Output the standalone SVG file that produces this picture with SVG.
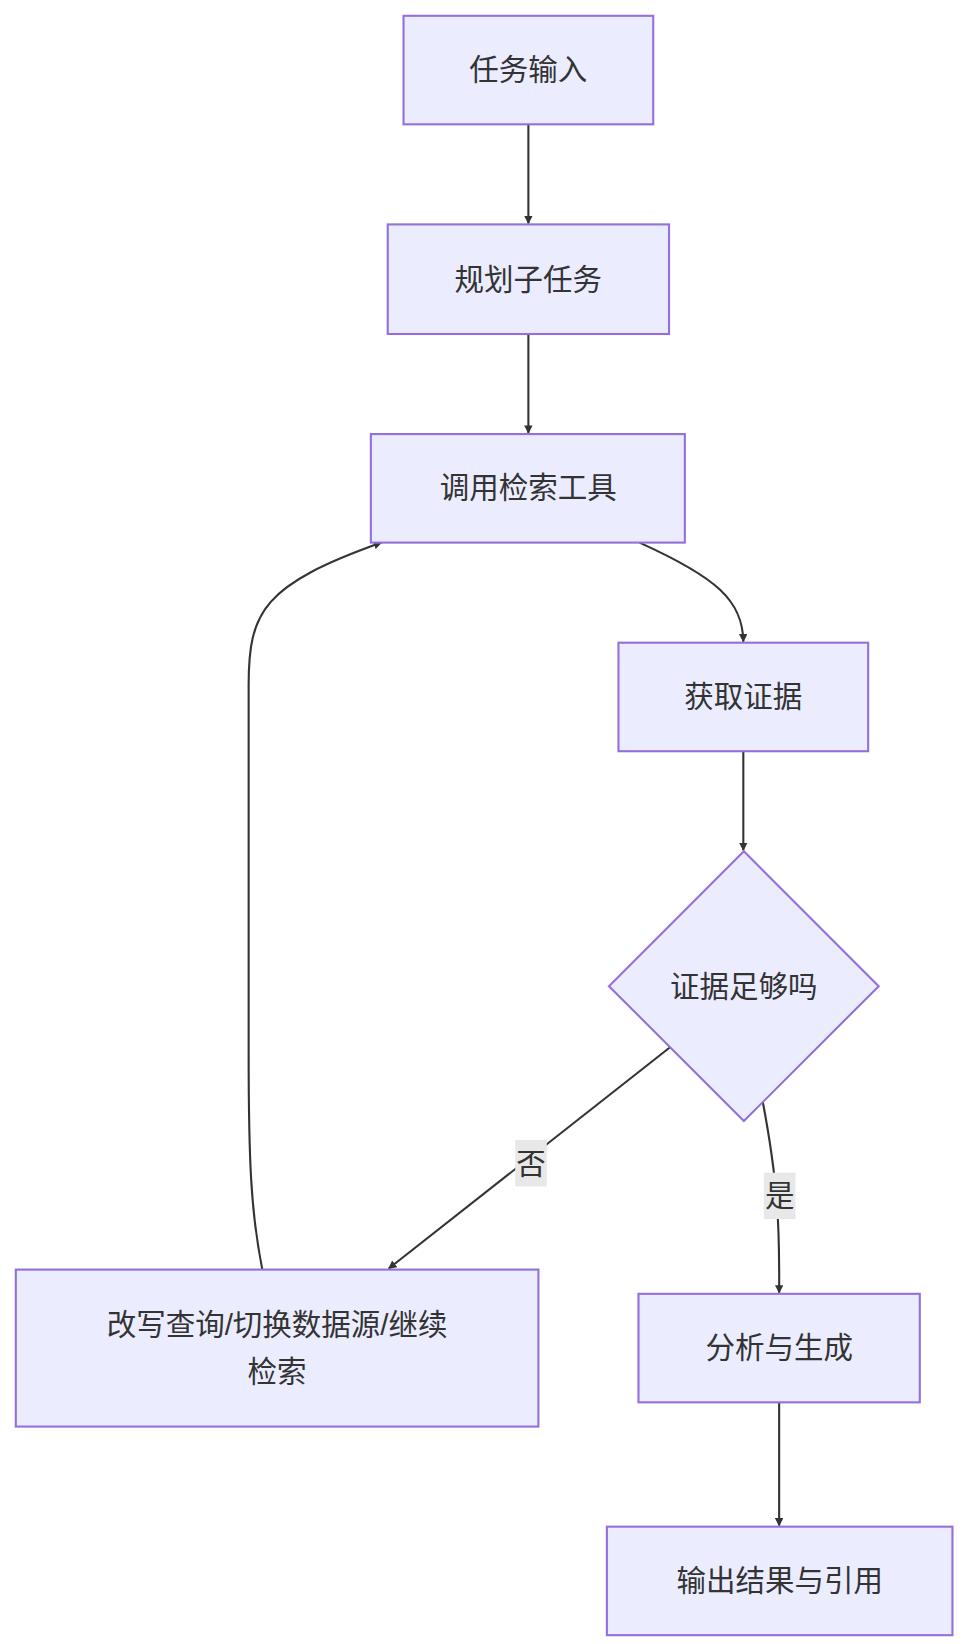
<svg xmlns="http://www.w3.org/2000/svg" width="964" height="1644" viewBox="0 0 964 1644">
<style>
.n{fill:#ECECFF;stroke:#9370DB;stroke-width:2}
.t{font-family:"Liberation Sans","Noto Sans CJK SC",sans-serif;font-size:28px;fill:#333;text-anchor:middle;dominant-baseline:central}
.e{fill:none;stroke:#333;stroke-width:2}
.lb{fill:#e8e8e8}
</style>
<defs><marker id="a" viewBox="0 0 10 10" refX="9" refY="5" markerWidth="8" markerHeight="8" markerUnits="userSpaceOnUse" orient="auto"><path d="M0,0L10,5L0,10z" fill="#333"/></marker></defs>
<rect width="964" height="1644" fill="#fff"/>
<g transform="scale(1.0536)">
<g id="connectors">
<path class="e" d="M501.5,118V212" marker-end="url(#a)"/>
<path class="e" d="M501.5,317V411" marker-end="url(#a)"/>
<path class="e" d="M607,515C680,548 705,570 705.5,609" marker-end="url(#a)"/>
<path class="e" d="M705.5,713V807" marker-end="url(#a)"/>
<path class="e" d="M636,994L369,1204" marker-end="url(#a)"/>
<path class="e" d="M724,1046C738,1120 740,1160 739.5,1227" marker-end="url(#a)"/>
<path class="e" d="M249,1205C238,1150 236,1100 236,1000L236,650C236,580 250,555 362,515" marker-end="url(#a)"/>
<path class="e" d="M739.5,1331V1448" marker-end="url(#a)"/>
<g id="l-no"><rect class="lb" x="489" y="1082" width="30" height="44"/><text class="t" x="504" y="1104">否</text></g>
<g id="l-yes"><rect class="lb" x="725" y="1113" width="30" height="44"/><text class="t" x="740" y="1135">是</text></g>
</g>
<g id="n1"><rect class="n" x="383" y="15" width="237" height="103"/><text class="t" x="501.5" y="66">任务输入</text></g>
<g id="n2"><rect class="n" x="368" y="213" width="267" height="104"/><text class="t" x="501.5" y="265">规划子任务</text></g>
<g id="n3"><rect class="n" x="352" y="412" width="298" height="103"/><text class="t" x="501.5" y="463">调用检索工具</text></g>
<g id="n4"><rect class="n" x="587" y="610" width="237" height="103"/><text class="t" x="705.5" y="661">获取证据</text></g>
<g id="n5"><path class="n" d="M706,808L834,936L706,1064L578,936Z"/><text class="t" x="706" y="936">证据足够吗</text></g>
<g id="n6"><rect class="n" x="15" y="1205" width="496" height="149"/><text class="t" x="263" y="1257">改写查询/切换数据源/继续</text><text class="t" x="263" y="1302">检索</text></g>
<g id="n7"><rect class="n" x="606" y="1228" width="267" height="103"/><text class="t" x="739.5" y="1279">分析与生成</text></g>
<g id="n8"><rect class="n" x="576" y="1449" width="328" height="103"/><text class="t" x="740" y="1500">输出结果与引用</text></g>
</g>
</svg>
